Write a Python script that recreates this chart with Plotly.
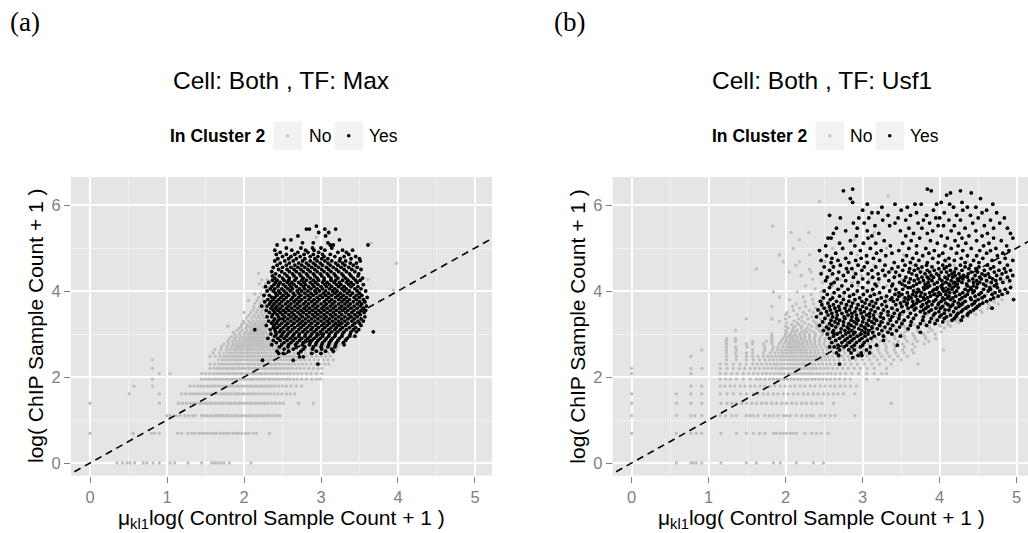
import plotly.graph_objects as go

W, H = 1028, 533

# Each series is a list of rows: (log(ChIP count + 1), [scaled log(control count + 1), ...])

# ---- Panel (a): Max ----
MAX_NO = [
    (0.00, [0.35, 0.42, 0.48, 0.52, 0.58, 0.69, 0.74, 0.82, 0.90, 1.04, 1.10, 1.27, 1.45, 1.58, 1.62, 1.66, 1.70, 1.74, 1.81, 2.09]),
    (0.69, [0.00, 0.56, 0.80, 0.84, 0.90, 1.14, 1.19, 1.27, 1.32, 1.36, 1.41, 1.45, 1.49, 1.53, 1.57, 1.61, 1.64, 1.69, 1.73, 1.77, 1.81, 1.86, 1.90, 1.93, 1.97, 2.02, 2.06, 2.12, 2.16, 2.33]),
    (1.10, [1.00, 1.04, 1.12, 1.17, 1.23, 1.28, 1.33, 1.37, 1.45, 1.49, 1.52, 1.56, 1.59, 1.63, 1.66, 1.70, 1.73, 1.77, 1.80, 1.84, 1.88, 1.91, 1.95, 1.98, 2.02, 2.06, 2.09, 2.13, 2.17, 2.21, 2.25, 2.30, 2.34, 2.39, 2.43, 2.47]),
    (1.39, [0.00, 0.90, 1.15, 1.20, 1.25, 1.30, 1.34, 1.38, 1.42, 1.45, 1.49, 1.52, 1.56, 1.59, 1.63, 1.66, 1.70, 1.73, 1.77, 1.80, 1.83, 1.87, 1.90, 1.94, 1.97, 2.01, 2.04, 2.08, 2.11, 2.15, 2.19, 2.23, 2.27, 2.31, 2.36, 2.41, 2.46, 2.51, 2.71, 2.90]),
    (1.61, [0.51, 0.90, 1.19, 1.24, 1.29, 1.33, 1.37, 1.41, 1.45, 1.49, 1.52, 1.56, 1.59, 1.63, 1.66, 1.70, 1.73, 1.76, 1.80, 1.83, 1.87, 1.90, 1.93, 1.97, 2.00, 2.04, 2.07, 2.11, 2.14, 2.18, 2.22, 2.26, 2.30, 2.34, 2.39, 2.44, 2.49, 2.55, 2.60, 2.66]),
    (1.79, [0.57, 0.81, 1.30, 1.35, 1.40, 1.44, 1.48, 1.52, 1.55, 1.59, 1.62, 1.66, 1.69, 1.73, 1.76, 1.80, 1.83, 1.86, 1.90, 1.93, 1.97, 2.00, 2.04, 2.07, 2.10, 2.14, 2.17, 2.21, 2.24, 2.28, 2.32, 2.36, 2.40, 2.45, 2.50, 2.55, 2.61, 2.68, 2.75]),
    (1.95, [0.81, 1.45, 1.50, 1.54, 1.58, 1.62, 1.65, 1.69, 1.72, 1.76, 1.79, 1.83, 1.86, 1.89, 1.93, 1.96, 2.00, 2.03, 2.07, 2.10, 2.13, 2.17, 2.20, 2.24, 2.27, 2.31, 2.34, 2.38, 2.42, 2.46, 2.50, 2.55, 2.59, 2.64, 2.69, 2.75, 2.81, 2.88, 2.94, 2.99]),
    (2.08, [0.90, 1.04, 1.45, 1.50, 1.55, 1.60, 1.64, 1.68, 1.72, 1.75, 1.79, 1.82, 1.86, 1.89, 1.92, 1.96, 1.99, 2.03, 2.06, 2.10, 2.13, 2.16, 2.20, 2.23, 2.27, 2.30, 2.34, 2.37, 2.41, 2.44, 2.48, 2.52, 2.56, 2.60, 2.65, 2.70, 2.75, 2.81, 2.87, 2.94, 3.01]),
    (2.20, [0.81, 1.56, 1.61, 1.65, 1.69, 1.73, 1.77, 1.80, 1.84, 1.87, 1.91, 1.94, 1.98, 2.01, 2.05, 2.08, 2.12, 2.15, 2.19, 2.22, 2.26, 2.29, 2.33, 2.36, 2.40, 2.43, 2.47, 2.51, 2.55, 2.59, 2.63, 2.68, 2.73, 2.78, 2.84, 2.90, 2.96, 3.01]),
    (2.30, [1.56, 1.62, 1.67, 1.71, 1.75, 1.79, 1.83, 1.86, 1.90, 1.93, 1.97, 2.00, 2.04, 2.07, 2.11, 2.14, 2.18, 2.21, 2.25, 2.28, 2.32, 2.35, 2.39, 2.42, 2.46, 2.50, 2.54, 2.58, 2.62, 2.66, 2.71, 2.76, 2.81, 2.87, 2.93, 2.99, 3.05, 3.10]),
    (2.40, [0.81, 1.67, 1.72, 1.76, 1.80, 1.84, 1.88, 1.91, 1.95, 1.98, 2.02, 2.05, 2.09, 2.12, 2.16, 2.19, 2.23, 2.26, 2.30, 2.33, 2.37, 2.40, 2.44, 2.48, 2.52, 2.56, 2.60, 2.64, 2.69, 2.74, 2.79, 2.85, 2.91, 2.97, 3.03, 3.09, 3.16]),
    (2.48, [1.56, 1.63, 1.69, 1.74, 1.78, 1.82, 1.86, 1.90, 1.93, 1.97, 2.00, 2.04, 2.07, 2.11, 2.14, 2.18, 2.21, 2.25, 2.28, 2.32, 2.35, 2.39, 2.43, 2.47, 2.51, 2.55, 2.59, 2.63, 2.67, 2.72, 2.77, 2.82, 2.88, 2.94, 3.00, 3.06, 3.12]),
    (2.56, [1.60, 1.68, 1.74, 1.79, 1.83, 1.87, 1.91, 1.95, 1.98, 2.02, 2.05, 2.09, 2.12, 2.16, 2.19, 2.23, 2.27, 2.31, 2.35, 2.39, 2.43, 2.47, 2.51, 2.55, 2.60, 2.65, 2.70, 2.75, 2.80, 2.86, 2.92, 2.98, 3.04, 3.10, 3.16]),
    (2.64, [1.62, 1.70, 1.77, 1.82, 1.87, 1.91, 1.95, 1.99, 2.03, 2.06, 2.10, 2.14, 2.18, 2.22, 2.26, 2.30, 2.34, 2.38, 2.42, 2.47, 2.52, 2.57, 2.62, 2.68, 2.74, 2.80, 2.86, 2.92, 2.99, 3.06, 3.13, 3.20]),
    (2.71, [1.71, 1.78, 1.84, 1.89, 1.93, 1.97, 2.01, 2.05, 2.09, 2.13, 2.17, 2.21, 2.25, 2.29, 2.33, 2.38, 2.43, 2.48, 2.54, 2.60, 2.66, 2.73, 2.80, 2.88, 2.96, 3.04, 3.12, 3.22]),
    (2.77, [1.74, 1.80, 1.86, 1.91, 1.95, 1.99, 2.03, 2.07, 2.11, 2.15, 2.19, 2.23, 2.27, 2.32, 2.37, 2.43, 2.49, 2.56, 2.63, 2.71, 2.79, 2.87, 2.96, 3.05, 3.15, 3.25]),
    (2.83, [1.79, 1.85, 1.90, 1.95, 2.00, 2.04, 2.08, 2.12, 2.16, 2.20, 2.24, 2.29, 2.34, 2.40, 2.47, 2.55, 2.64, 2.74, 2.85, 2.97, 3.10, 3.22, 3.30]),
    (2.89, [1.81, 1.88, 1.94, 1.99, 2.03, 2.07, 2.11, 2.15, 2.19, 2.23, 2.27, 2.32, 2.38, 2.45, 2.53, 2.62, 2.73, 2.86, 3.00, 3.15, 3.30]),
    (2.94, [1.84, 1.90, 1.96, 2.01, 2.06, 2.10, 2.14, 2.18, 2.22, 2.26, 2.31, 2.37, 2.44, 2.52, 3.40]),
    (3.00, [1.88, 1.94, 2.00, 2.05, 2.09, 2.13, 2.17, 2.21, 2.25, 2.30]),
    (3.04, [1.86, 1.95, 2.02, 2.08, 2.12, 2.16, 2.20, 2.24, 2.28]),
    (3.09, [1.91, 1.98, 2.04, 2.10, 2.15, 2.19, 2.23, 2.27]),
    (3.14, [1.94, 2.02, 2.08, 2.13, 2.18, 2.22, 2.26, 2.30]),
    (3.18, [1.79, 1.97, 2.05, 2.11, 2.16, 2.21, 2.25, 2.29]),
    (3.22, [1.97, 2.04, 2.10, 2.15, 2.20, 2.24, 2.28]),
    (3.26, [2.00, 2.08, 2.14, 2.19, 2.24, 2.28]),
    (3.30, [1.99, 2.06, 2.12, 2.17, 2.22, 2.27]),
    (3.37, [2.03, 2.10, 2.16, 2.21, 2.26]),
    (3.43, [2.06, 2.13, 2.19, 2.24, 2.29]),
    (3.50, [2.00, 2.09, 2.16, 2.22, 2.27]),
    (3.56, [2.12, 2.18, 2.24, 2.29]),
    (3.63, [2.13, 2.20, 2.26]),
    (3.71, [2.14, 2.21, 2.27, 3.58]),
    (3.78, [2.06, 2.17, 2.24, 2.30]),
    (3.85, [2.19, 2.25]),
    (3.93, [2.14, 2.22, 2.28]),
    (4.00, [2.30, 2.36]),
    (4.02, [3.94]),
    (4.09, [2.25, 2.32]),
    (4.17, [2.20, 2.28]),
    (4.26, [2.23, 2.30]),
    (4.27, [3.61]),
    (4.41, [2.19]),
    (4.50, [3.44]),
    (4.53, [2.38]),
    (4.64, [3.98]),
    (4.73, [2.41]),
    (5.11, [3.65]),
    (5.25, [2.94]),
]

MAX_YES = [
    (5.51, [2.94]),
    (5.44, [2.81, 2.85, 3.05, 3.19]),
    (5.36, [2.97, 3.10]),
    (5.28, [2.70, 3.06]),
    (5.19, [2.52, 2.61, 3.24]),
    (5.12, [2.76, 2.90, 3.09]),
    (5.07, [2.43, 3.12, 3.16, 3.61]),
    (5.00, [2.55, 2.74, 2.89, 3.00, 3.14]),
    (4.95, [2.40, 2.62, 2.80, 2.91, 3.05, 3.28, 3.41]),
    (4.90, [2.47, 2.70, 2.83, 2.97, 3.22, 3.33]),
    (4.85, [2.42, 2.55, 2.66, 2.78, 2.90, 3.02, 3.12, 3.36]),
    (4.80, [2.50, 2.61, 2.73, 2.86, 2.96, 3.04, 3.18, 3.30, 3.45]),
    (4.75, [2.44, 2.58, 2.68, 2.79, 2.92, 3.01, 3.09, 3.25, 3.39, 3.50]),
    (4.70, [2.40, 2.53, 2.64, 2.76, 2.86, 2.95, 3.05, 3.14, 3.24, 3.32, 3.51]),
    (4.65, [2.47, 2.59, 2.71, 2.81, 2.90, 2.99, 3.09, 3.19, 3.28, 3.38, 3.46]),
    (4.60, [2.43, 2.55, 2.66, 2.75, 2.84, 2.93, 3.02, 3.12, 3.22, 3.31, 3.42]),
    (4.55, [2.38, 2.50, 2.61, 2.70, 2.79, 2.88, 2.97, 3.07, 3.16, 3.26, 3.36, 3.47]),
    (4.50, [2.45, 2.56, 2.65, 2.74, 2.83, 2.92, 3.01, 3.10, 3.20, 3.30, 3.40, 3.52]),
    (4.45, [2.36, 2.49, 2.59, 2.68, 2.77, 2.86, 2.95, 3.04, 3.13, 3.23, 3.33, 3.44]),
    (4.40, [2.41, 2.53, 2.63, 2.72, 2.81, 2.90, 2.99, 3.08, 3.17, 3.27, 3.37, 3.49]),
    (4.35, [2.37, 2.46, 2.56, 2.65, 2.74, 2.83, 2.92, 3.01, 3.10, 3.19, 3.29, 3.39, 3.48]),
    (4.30, [2.40, 2.50, 2.59, 2.68, 2.77, 2.86, 2.95, 3.04, 3.13, 3.22, 3.32, 3.42, 3.54]),
    (4.25, [2.37, 2.43, 2.52, 2.58, 2.66, 2.75, 2.81, 2.90, 2.97, 3.04, 3.13, 3.19, 3.28, 3.35, 3.45, 3.51]),
    (4.20, [2.32, 2.41, 2.47, 2.56, 2.62, 2.71, 2.78, 2.86, 2.93, 3.02, 3.08, 3.17, 3.24, 3.33, 3.39, 3.47]),
    (4.15, [2.39, 2.45, 2.51, 2.59, 2.65, 2.74, 2.80, 2.89, 2.96, 3.05, 3.11, 3.20, 3.26, 3.36, 3.42, 3.55]),
    (4.10, [2.28, 2.36, 2.44, 2.54, 2.61, 2.68, 2.77, 2.84, 2.91, 3.00, 3.07, 3.14, 3.23, 3.30, 3.39, 3.48]),
    (4.05, [2.34, 2.40, 2.49, 2.57, 2.63, 2.72, 2.79, 2.87, 2.95, 3.02, 3.11, 3.18, 3.27, 3.33, 3.44, 3.52]),
    (4.00, [2.30, 2.38, 2.45, 2.52, 2.60, 2.69, 2.75, 2.83, 2.92, 2.98, 3.06, 3.15, 3.21, 3.30, 3.37, 3.47, 3.58]),
    (3.95, [2.41, 2.47, 2.55, 2.64, 2.71, 2.79, 2.87, 2.94, 3.03, 3.10, 3.18, 3.25, 3.34, 3.41, 3.50]),
    (3.90, [2.26, 2.33, 2.43, 2.51, 2.58, 2.66, 2.74, 2.83, 2.90, 2.99, 3.06, 3.14, 3.22, 3.29, 3.38, 3.46, 3.53]),
    (3.85, [2.36, 2.40, 2.48, 2.55, 2.63, 2.71, 2.79, 2.86, 2.95, 3.02, 3.10, 3.19, 3.26, 3.33, 3.43, 3.50, 3.60]),
    (3.80, [2.31, 2.38, 2.45, 2.52, 2.61, 2.68, 2.75, 2.84, 2.91, 2.98, 3.07, 3.14, 3.23, 3.30, 3.37, 3.46, 3.55]),
    (3.75, [2.27, 2.35, 2.42, 2.49, 2.57, 2.65, 2.72, 2.80, 2.88, 2.95, 3.04, 3.11, 3.18, 3.27, 3.34, 3.42, 3.50, 3.57]),
    (3.70, [2.33, 2.39, 2.46, 2.54, 2.61, 2.69, 2.77, 2.84, 2.92, 3.00, 3.07, 3.15, 3.23, 3.31, 3.38, 3.47, 3.53]),
    (3.65, [2.23, 2.30, 2.37, 2.43, 2.50, 2.58, 2.66, 2.73, 2.81, 2.89, 2.96, 3.04, 3.12, 3.19, 3.27, 3.35, 3.43, 3.51, 3.59]),
    (3.60, [2.35, 2.41, 2.47, 2.55, 2.62, 2.70, 2.78, 2.85, 2.93, 3.01, 3.08, 3.16, 3.24, 3.31, 3.39, 3.47, 3.55]),
    (3.55, [2.29, 2.38, 2.44, 2.51, 2.58, 2.66, 2.74, 2.81, 2.89, 2.97, 3.04, 3.12, 3.20, 3.28, 3.35, 3.43, 3.52, 3.58]),
    (3.50, [2.33, 2.40, 2.47, 2.54, 2.62, 2.70, 2.77, 2.85, 2.93, 3.00, 3.08, 3.16, 3.24, 3.32, 3.40, 3.48, 3.56]),
    (3.45, [2.37, 2.43, 2.50, 2.58, 2.65, 2.73, 2.81, 2.89, 2.96, 3.04, 3.12, 3.19, 3.27, 3.36, 3.44, 3.51]),
    (3.40, [2.30, 2.36, 2.45, 2.53, 2.61, 2.68, 2.76, 2.84, 2.92, 3.00, 3.07, 3.15, 3.23, 3.31, 3.39, 3.47, 3.57]),
    (3.35, [2.40, 2.46, 2.50, 2.57, 2.65, 2.72, 2.80, 2.88, 2.96, 3.04, 3.11, 3.19, 3.27, 3.35, 3.43, 3.52]),
    (3.30, [2.32, 2.38, 2.44, 2.53, 2.61, 2.69, 2.76, 2.84, 2.92, 3.00, 3.08, 3.15, 3.23, 3.31, 3.40, 3.48, 3.55]),
    (3.25, [2.36, 2.42, 2.49, 2.57, 2.65, 2.73, 2.80, 2.88, 2.96, 3.04, 3.11, 3.19, 3.27, 3.35, 3.44, 3.50]),
    (3.20, [2.29, 2.39, 2.46, 2.54, 2.62, 2.70, 2.77, 2.85, 2.93, 3.01, 3.08, 3.16, 3.24, 3.32, 3.41, 3.52]),
    (3.15, [2.38, 2.43, 2.51, 2.58, 2.66, 2.74, 2.82, 2.89, 2.97, 3.05, 3.13, 3.20, 3.28, 3.37, 3.45]),
    (3.10, [2.14, 2.34, 2.40, 2.48, 2.56, 2.63, 2.71, 2.79, 2.87, 2.94, 3.02, 3.10, 3.18, 3.25, 3.33, 3.42, 3.49]),
    (3.05, [2.41, 2.46, 2.52, 2.60, 2.68, 2.76, 2.83, 2.91, 2.99, 3.07, 3.14, 3.22, 3.30, 3.39, 3.46, 3.68]),
    (3.00, [2.35, 2.42, 2.50, 2.57, 2.65, 2.72, 2.80, 2.88, 2.95, 3.03, 3.11, 3.19, 3.28, 3.38]),
    (2.95, [2.40, 2.48, 2.55, 2.63, 2.71, 2.79, 2.86, 2.94, 3.02, 3.10, 3.18, 3.27, 3.37, 3.44]),
    (2.90, [2.31, 2.44, 2.52, 2.60, 2.67, 2.75, 2.83, 2.91, 2.99, 3.07, 3.15, 3.24, 3.34]),
    (2.85, [2.38, 2.47, 2.56, 2.64, 2.72, 2.80, 2.88, 2.96, 3.05, 3.13, 3.22, 3.32]),
    (2.80, [2.42, 2.52, 2.61, 2.69, 2.77, 2.86, 2.94, 3.02, 3.11, 3.20, 3.29]),
    (2.75, [2.36, 2.49, 2.58, 2.67, 2.76, 2.85, 2.93, 3.01, 3.10, 3.19, 3.30]),
    (2.70, [2.46, 2.57, 2.68, 2.79, 2.90, 3.00, 3.09, 3.18]),
    (2.65, [2.52, 2.64, 2.77, 2.89, 3.01, 3.14]),
    (2.60, [2.43, 2.58, 2.74, 2.94, 3.06, 3.16]),
    (2.55, [2.45, 2.51, 2.71, 2.88, 3.00]),
    (2.47, [2.72, 2.77]),
    (2.39, [2.24, 2.64]),
    (2.30, [2.96]),
]

# ---- Panel (b): Usf1 ----
USF1_NO = [
    (0.00, [0.58, 0.77, 0.80, 0.84, 0.91, 1.16, 1.49, 1.62, 1.84, 1.93, 2.14, 2.36, 2.49]),
    (0.69, [0.00, 0.58, 0.77, 0.84, 0.91, 1.16, 1.36, 1.49, 1.58, 1.66, 1.73, 1.84, 1.88, 1.93, 1.97, 2.01, 2.06, 2.10, 2.14, 2.25, 2.34, 2.40, 2.46, 2.55]),
    (1.10, [0.00, 0.58, 0.77, 0.82, 0.91, 1.15, 1.22, 1.30, 1.36, 1.49, 1.54, 1.58, 1.64, 1.73, 1.79, 1.84, 1.90, 1.97, 2.01, 2.06, 2.14, 2.21, 2.27, 2.32, 2.36, 2.45, 2.51, 2.58, 2.64, 2.90]),
    (1.39, [0.00, 0.58, 0.77, 0.91, 1.16, 1.24, 1.30, 1.36, 1.43, 1.49, 1.56, 1.62, 1.69, 1.75, 1.82, 1.88, 1.95, 2.01, 2.08, 2.14, 2.21, 2.27, 2.34, 2.40, 2.47, 2.62, 3.37]),
    (1.61, [0.00, 0.58, 0.77, 0.91, 1.15, 1.24, 1.32, 1.41, 1.49, 1.58, 1.64, 1.71, 1.77, 1.84, 1.90, 1.97, 2.03, 2.10, 2.16, 2.23, 2.29, 2.36, 2.42, 2.49, 2.55, 2.62, 2.68, 2.75, 2.90]),
    (1.79, [0.77, 0.91, 1.15, 1.21, 1.28, 1.34, 1.41, 1.47, 1.54, 1.60, 1.67, 1.73, 1.80, 1.86, 1.93, 1.99, 2.06, 2.12, 2.19, 2.25, 2.32, 2.38, 2.45, 2.51, 2.58, 2.64, 2.71, 2.77, 2.84, 2.92]),
    (1.95, [1.15, 1.22, 1.28, 1.36, 1.45, 1.54, 1.62, 1.67, 1.73, 1.79, 1.84, 1.89, 1.93, 1.98, 2.02, 2.07, 2.11, 2.16, 2.20, 2.25, 2.29, 2.34, 2.38, 2.43, 2.48, 2.53, 2.58, 2.64, 2.70, 2.77, 2.84, 3.05, 3.20]),
    (2.08, [0.00, 0.77, 1.15, 1.22, 1.30, 1.37, 1.45, 1.52, 1.58, 1.64, 1.70, 1.75, 1.80, 1.85, 1.90, 1.94, 1.98, 2.03, 2.07, 2.11, 2.15, 2.19, 2.23, 2.27, 2.31, 2.35, 2.40, 2.44, 2.49, 2.54, 2.59, 2.65, 2.71, 2.78, 2.86, 2.95, 3.05, 3.15, 3.25, 3.31]),
    (2.20, [0.00, 0.77, 0.91, 1.15, 1.24, 1.32, 1.40, 1.47, 1.54, 1.60, 1.66, 1.72, 1.77, 1.82, 1.87, 1.92, 1.96, 2.00, 2.04, 2.08, 2.12, 2.16, 2.20, 2.24, 2.28, 2.32, 2.36, 2.40, 2.45, 2.50, 2.55, 2.61, 2.67, 2.74, 2.81, 2.89, 2.97, 3.06, 3.15, 3.31]),
    (2.30, [1.15, 1.23, 1.32, 1.41, 1.49, 1.57, 1.63, 1.69, 1.75, 1.80, 1.85, 1.89, 1.94, 1.98, 2.02, 2.06, 2.10, 2.14, 2.18, 2.22, 2.26, 2.30, 2.34, 2.38, 2.43, 2.48, 2.53, 2.58, 2.64, 2.70, 2.77, 2.85, 2.93, 3.02, 3.12, 3.22, 3.37, 3.72]),
    (2.40, [1.23, 1.36, 1.49, 1.58, 1.66, 1.73, 1.79, 1.84, 1.89, 1.94, 1.98, 2.02, 2.06, 2.10, 2.14, 2.18, 2.22, 2.26, 2.30, 2.34, 2.38, 2.42, 2.47, 2.52, 2.57, 2.63, 2.69, 2.76, 2.83, 2.91, 3.00, 3.09, 3.19, 3.29, 3.40, 3.50]),
    (2.48, [0.77, 1.23, 1.36, 1.49, 1.57, 1.64, 1.71, 1.77, 1.82, 1.87, 1.92, 1.96, 2.00, 2.04, 2.08, 2.12, 2.16, 2.20, 2.24, 2.28, 2.32, 2.36, 2.40, 2.45, 2.50, 2.55, 2.61, 2.67, 2.74, 2.81, 2.89, 2.97, 3.06, 3.15, 3.25, 3.35, 3.46, 3.58]),
    (2.56, [1.23, 1.35, 1.49, 1.57, 1.71, 1.80, 1.86, 1.91, 1.96, 2.00, 2.04, 2.08, 2.12, 2.16, 2.20, 2.24, 2.28, 2.33, 2.38, 2.43, 2.49, 2.55, 2.62, 2.69, 2.77, 2.85, 2.94, 3.03, 3.12, 3.22, 3.32, 3.43, 3.54, 3.66]),
    (2.63, [0.91, 1.23, 1.36, 1.57, 1.73, 1.83, 1.89, 1.94, 1.99, 2.03, 2.07, 2.11, 2.15, 2.19, 2.23, 2.27, 2.32, 2.37, 2.42, 2.48, 2.54, 2.60, 2.67, 2.75, 2.83, 2.92, 3.01, 3.10, 3.20, 3.30, 3.41, 3.52, 3.64, 4.05]),
    (2.70, [1.23, 1.35, 1.50, 1.73, 1.84, 1.90, 1.96, 2.01, 2.05, 2.09, 2.13, 2.17, 2.21, 2.25, 2.30, 2.35, 2.40, 2.46, 2.52, 2.59, 2.66, 2.74, 2.82, 2.91, 3.00, 3.10, 3.20, 3.31, 3.42, 3.54, 3.68]),
    (2.77, [1.23, 1.49, 1.57, 1.71, 1.82, 1.92, 1.98, 2.03, 2.07, 2.11, 2.15, 2.19, 2.23, 2.28, 2.33, 2.38, 2.44, 2.50, 2.57, 2.64, 2.72, 2.80, 2.89, 2.98, 3.08, 3.18, 3.29, 3.40, 3.52, 3.65, 3.80]),
    (2.83, [1.23, 1.35, 1.57, 1.75, 1.82, 1.94, 2.00, 2.05, 2.09, 2.13, 2.17, 2.22, 2.27, 2.32, 2.38, 2.44, 2.51, 2.58, 2.66, 2.74, 2.83, 2.92, 3.02, 3.12, 3.23, 3.34, 3.46, 3.58, 3.71, 3.86]),
    (2.89, [1.23, 1.35, 1.82, 1.96, 2.01, 2.06, 2.10, 2.15, 2.20, 2.25, 2.31, 2.37, 2.44, 2.51, 2.59, 2.67, 2.76, 2.86, 2.96, 3.07, 3.18, 3.30, 3.42, 3.55, 3.68, 3.82, 3.95]),
    (2.95, [1.82, 1.99, 2.04, 2.09, 2.14, 2.19, 2.25, 2.31, 2.38, 2.46, 2.54, 2.63, 2.72, 2.82, 2.93, 3.04, 3.16, 3.28, 3.41, 3.54, 3.67, 3.81]),
    (3.00, [1.82, 2.00, 2.06, 2.12, 2.18, 2.24, 2.31, 2.39, 2.48, 2.57, 2.67, 2.78, 2.89, 3.01, 3.13, 3.25, 3.38, 3.51, 3.65, 3.79, 3.94]),
    (3.05, [2.01, 2.08, 2.13, 2.21, 2.27, 2.36, 2.45, 2.56, 2.66, 2.79, 2.90, 3.03, 3.15, 3.31, 3.44, 3.55, 3.72, 3.85, 4.02]),
    (3.09, [1.35, 2.00, 2.09, 2.15, 2.25, 2.32, 2.44, 2.53, 2.66, 2.76, 2.88, 3.03, 3.14, 3.30, 3.42, 3.59, 3.71, 3.90]),
    (3.14, [2.03, 2.10, 2.20, 2.28, 2.40, 2.49, 2.63, 2.73, 2.88, 2.99, 3.15, 3.27, 3.43, 3.56, 3.73, 3.87, 4.06]),
    (3.18, [2.00, 2.12, 2.21, 2.34, 2.43, 2.57, 2.68, 2.83, 2.95, 3.11, 3.24, 3.41, 3.54, 3.71, 3.85, 4.01, 4.14]),
    (3.22, [2.08, 2.17, 2.30, 2.40, 2.54, 2.65, 2.80, 2.92, 3.08, 3.20, 3.37, 3.50, 3.67, 3.81, 3.99, 4.11]),
    (3.26, [2.01, 2.15, 2.25, 2.39, 2.50, 2.65, 2.77, 2.93, 3.05, 3.21, 3.34, 3.51, 3.64, 3.81, 3.94, 4.11, 4.25]),
    (3.30, [1.92, 2.11, 2.21, 2.36, 2.47, 2.63, 2.75, 2.91, 3.03, 3.20, 3.33, 3.50, 3.63, 3.80, 3.93, 4.10, 4.21]),
    (3.35, [1.49, 1.82, 2.00, 2.17, 2.29, 2.45, 2.57, 2.74, 2.87, 3.04, 3.17, 3.34, 3.47, 3.64, 3.77, 3.94, 4.07, 4.25]),
    (3.40, [2.05, 2.21, 2.34, 2.51, 2.64, 2.81, 2.95, 3.13, 3.27, 3.45, 3.59, 3.77, 3.91, 4.09, 4.23, 4.37]),
    (3.45, [2.00, 2.15, 2.27, 2.44, 2.57, 2.74, 2.88, 3.06, 3.20, 3.38, 3.52, 3.70, 3.84, 4.02, 4.16, 4.34, 4.47]),
    (3.50, [2.02, 2.23, 2.36, 2.53, 2.66, 2.84, 2.98, 3.16, 3.30, 3.48, 3.62, 3.80, 3.94, 4.12, 4.26, 4.43, 4.55]),
    (3.55, [2.10, 2.31, 2.45, 2.63, 2.77, 2.95, 3.09, 3.27, 3.41, 3.59, 3.73, 3.91, 4.05, 4.23, 4.37, 4.53]),
    (3.60, [2.18, 2.39, 2.54, 2.72, 2.86, 3.04, 3.18, 3.36, 3.50, 3.68, 3.82, 4.00, 4.14, 4.32, 4.46, 4.63]),
    (3.64, [1.82, 2.09, 2.26, 2.47, 2.62, 2.81, 2.96, 3.15, 3.30, 3.49, 3.64, 3.83, 3.98, 4.17, 4.32, 4.51, 4.65]),
    (3.70, [2.14, 2.36, 2.54, 2.75, 2.92, 3.13, 3.30, 3.51, 3.68, 3.89, 4.06, 4.27, 4.44, 4.63, 4.76]),
    (3.75, [2.25, 2.48, 2.67, 2.90, 3.09, 3.32, 3.51, 3.74, 3.93, 4.16, 4.35, 4.56, 4.71]),
    (3.80, [2.05, 2.35, 2.57, 2.83, 3.05, 3.31, 3.53, 3.79, 4.01, 4.27, 4.47, 4.67, 4.81]),
    (3.86, [1.92, 2.23, 2.47, 2.75, 2.99, 3.27, 3.51, 3.79, 4.03, 4.31, 4.53, 4.75]),
    (3.92, [2.33, 2.60, 2.91, 3.18, 3.49, 3.76, 4.07, 4.34, 4.61, 4.83]),
    (3.98, [1.84, 2.15, 2.46, 2.77, 3.12, 3.43, 3.78, 4.09, 4.44, 4.69, 4.89]),
    (4.05, [2.38, 2.71, 3.02, 3.37, 3.68, 4.03, 4.34, 4.65, 4.86]),
    (4.12, [2.26, 2.61, 2.94, 3.31, 3.64, 4.01, 4.34, 4.67, 4.93]),
    (4.20, [2.48, 2.86, 3.21, 3.60, 3.95, 4.34, 4.62, 4.90]),
    (4.27, [2.35, 2.71, 3.09, 3.51, 3.89, 4.31, 4.59, 4.85]),
    (4.36, [2.20, 2.59, 2.99, 3.43, 3.83, 4.27, 4.56, 4.79]),
    (4.44, [2.05, 2.33, 2.47, 2.89, 3.36, 3.79, 4.26, 4.51, 4.71]),
    (4.51, [1.62, 2.31, 2.81, 3.27, 3.77, 4.23, 4.49]),
    (4.60, [2.13, 2.61, 3.15, 3.65, 4.19, 4.41]),
    (4.68, [1.97, 2.18, 2.51, 3.04, 3.61, 4.09, 4.36]),
    (4.84, [1.92, 2.31, 2.93, 3.53, 4.01]),
    (4.99, [2.10, 2.61, 3.09, 3.31]),
    (5.19, [2.18, 2.89]),
    (5.36, [2.07, 2.30, 3.15]),
    (5.51, [1.83]),
    (6.08, [2.44]),
    (6.21, [3.33]),
]

USF1_YES = [
    (6.37, [2.87, 3.84]),
    (6.33, [2.75, 3.89, 4.27]),
    (6.28, [4.14, 4.41]),
    (6.23, [4.09]),
    (6.15, [2.84, 4.53]),
    (6.06, [2.87, 4.02, 4.29]),
    (6.02, [3.06, 3.42, 3.68, 3.76, 3.96, 4.13, 4.69]),
    (5.95, [3.25, 3.58, 4.18, 4.36, 4.47]),
    (5.88, [3.00, 3.50, 3.92, 4.30, 4.61]),
    (5.82, [3.12, 3.20, 3.70, 4.06, 4.55, 4.74]),
    (5.76, [2.57, 3.33, 3.62, 3.83, 4.22, 4.40]),
    (5.70, [2.71, 2.95, 3.08, 3.46, 3.95, 4.00, 4.50, 4.84]),
    (5.65, [3.26, 3.56, 3.79, 4.12, 4.27, 4.66]),
    (5.58, [2.88, 3.02, 3.42, 3.72, 3.87, 4.43, 4.78]),
    (5.52, [3.16, 3.35, 3.98, 4.05, 4.19, 4.58]),
    (5.46, [2.66, 2.93, 3.60, 3.77, 4.33, 4.70, 4.88]),
    (5.40, [2.78, 3.06, 3.49, 3.91, 4.15, 4.47]),
    (5.34, [2.62, 3.21, 3.66, 3.84, 4.25, 4.62, 4.92]),
    (5.28, [2.92, 3.12, 3.56, 4.02, 4.38, 4.55]),
    (5.23, [2.55, 2.59, 3.07, 3.74, 4.10, 4.29, 4.70, 4.95]),
    (5.17, [2.84, 3.28, 3.63, 3.88, 4.20, 4.48, 4.80]),
    (5.11, [2.70, 3.01, 3.17, 3.52, 3.97, 4.34, 4.64]),
    (5.05, [2.52, 2.90, 3.36, 3.70, 4.07, 4.24, 4.57, 4.87]),
    (4.99, [2.74, 3.10, 3.60, 3.82, 4.15, 4.41, 4.73]),
    (4.94, [2.44, 2.97, 3.24, 3.47, 3.93, 4.30, 4.52, 4.66, 4.90]),
    (4.88, [2.65, 2.85, 3.18, 3.38, 3.70, 3.86, 4.04, 4.22, 4.61, 4.82]),
    (4.82, [2.53, 3.05, 3.30, 3.57, 3.78, 3.99, 4.36, 4.48, 4.75]),
    (4.76, [2.60, 2.78, 2.98, 3.14, 3.65, 3.91, 4.12, 4.28, 4.56, 4.85]),
    (4.71, [2.46, 2.68, 2.91, 3.22, 3.52, 3.73, 4.07, 4.19, 4.44, 4.68, 4.95]),
    (4.66, [2.59, 2.82, 3.06, 3.41, 3.62, 3.84, 3.98, 4.33, 4.51, 4.78]),
    (4.60, [2.71, 2.94, 3.29, 3.55, 3.69, 3.83, 4.04, 4.13, 4.27, 4.40, 4.62, 4.88]),
    (4.56, [2.50, 2.62, 3.02, 3.17, 3.46, 3.77, 3.90, 4.09, 4.33, 4.51, 4.70]),
    (4.52, [2.79, 2.86, 3.38, 3.61, 3.72, 3.99, 4.06, 4.21, 4.38, 4.47, 4.66, 4.84]),
    (4.48, [2.57, 2.99, 3.12, 3.26, 3.52, 3.67, 3.84, 3.93, 4.14, 4.29, 4.58, 4.77, 4.92]),
    (4.44, [2.69, 2.81, 3.34, 3.43, 3.60, 3.75, 3.87, 4.02, 4.09, 4.19, 4.41, 4.49, 4.71, 4.86]),
    (4.40, [2.46, 2.61, 2.91, 3.07, 3.20, 3.64, 3.81, 3.96, 4.16, 4.25, 4.37, 4.55, 4.63, 4.81]),
    (4.36, [2.75, 3.29, 3.48, 3.70, 3.89, 3.99, 4.12, 4.20, 4.31, 4.46, 4.59, 4.74, 4.95]),
    (4.32, [2.54, 2.88, 3.13, 3.41, 3.56, 3.77, 3.84, 3.92, 4.07, 4.17, 4.27, 4.36, 4.52, 4.65, 4.88]),
    (4.28, [2.67, 3.00, 3.21, 3.62, 3.72, 3.86, 4.00, 4.10, 4.23, 4.30, 4.43, 4.54, 4.69, 4.79]),
    (4.24, [2.52, 2.78, 3.34, 3.54, 3.67, 3.79, 3.90, 4.03, 4.15, 4.25, 4.38, 4.48, 4.61, 4.73, 4.91]),
    (4.20, [2.63, 2.94, 3.07, 3.48, 3.60, 3.74, 3.85, 3.97, 4.08, 4.19, 4.29, 4.44, 4.52, 4.67, 4.82]),
    (4.16, [2.59, 3.16, 3.39, 3.51, 3.70, 3.81, 3.93, 4.04, 4.12, 4.23, 4.35, 4.49, 4.57, 4.74]),
    (4.12, [2.73, 2.86, 3.18, 3.38, 3.55, 3.66, 3.83, 3.87, 4.02, 4.13, 4.20, 4.36, 4.44, 4.60, 4.71]),
    (4.08, [2.57, 3.00, 3.27, 3.59, 3.62, 3.79, 3.84, 3.97, 4.03, 4.17, 4.24, 4.40, 4.48, 4.65, 4.75, 4.92]),
    (4.04, [2.68, 2.81, 3.13, 3.43, 3.52, 3.72, 3.80, 3.93, 3.96, 4.11, 4.16, 4.33, 4.41, 4.57, 4.66, 4.85]),
    (4.00, [2.50, 2.93, 3.06, 3.35, 3.66, 3.73, 3.91, 4.05, 4.09, 4.22, 4.37, 4.45, 4.63, 4.78]),
    (3.96, [2.63, 2.76, 3.22, 3.47, 3.58, 3.70, 3.76, 3.87, 3.99, 4.13, 4.19, 4.30, 4.43, 4.54, 4.72, 4.88]),
    (3.92, [2.54, 2.88, 3.01, 3.15, 3.42, 3.51, 3.65, 3.81, 3.93, 4.01, 4.08, 4.26, 4.36, 4.51, 4.68, 4.81]),
    (3.88, [2.70, 2.83, 3.10, 3.31, 3.47, 3.60, 3.69, 3.75, 3.88, 3.97, 4.12, 4.21, 4.33, 4.46, 4.58, 4.76]),
    (3.84, [2.49, 2.61, 2.96, 3.24, 3.38, 3.55, 3.63, 3.79, 3.84, 4.04, 4.10, 4.17, 4.29, 4.40, 4.55, 4.70]),
    (3.80, [2.58, 2.75, 2.90, 3.05, 3.19, 3.36, 3.45, 3.59, 3.71, 3.80, 3.95, 4.06, 4.14, 4.26, 4.41, 4.50, 4.66, 4.96]),
    (3.76, [2.45, 2.66, 2.82, 2.99, 3.12, 3.29, 3.40, 3.54, 3.65, 3.73, 3.86, 3.92, 4.02, 4.19, 4.33, 4.46, 4.61]),
    (3.72, [2.55, 2.72, 2.87, 3.03, 3.17, 3.49, 3.58, 3.70, 3.83, 3.99, 4.08, 4.24, 4.30, 4.45, 4.56]),
    (3.68, [2.47, 2.62, 2.79, 2.94, 3.09, 3.25, 3.43, 3.57, 3.66, 3.78, 3.90, 3.98, 4.11, 4.17, 4.28, 4.42, 4.52]),
    (3.64, [2.57, 2.69, 2.85, 3.00, 3.14, 3.31, 3.51, 3.64, 3.76, 3.85, 4.04, 4.14, 4.25, 4.37, 4.49]),
    (3.60, [2.50, 2.64, 2.77, 2.92, 3.05, 3.20, 3.38, 3.59, 3.69, 3.82, 3.95, 4.01, 4.21, 4.34, 4.47, 4.68]),
    (3.56, [2.42, 2.58, 2.70, 2.83, 2.97, 3.11, 3.27, 3.45, 3.67, 3.79, 3.89, 4.07, 4.12, 4.30, 4.44]),
    (3.52, [2.53, 2.66, 2.79, 2.90, 3.02, 3.16, 3.33, 3.53, 3.75, 3.86, 3.99, 4.18, 4.28, 4.40]),
    (3.48, [2.46, 2.60, 2.73, 2.86, 2.98, 3.09, 3.24, 3.41, 3.62, 3.81, 3.94, 4.06, 4.24, 4.37]),
    (3.44, [2.55, 2.67, 2.81, 2.92, 3.05, 3.14, 3.33, 3.48, 3.69, 3.92, 4.02, 4.14, 4.22, 4.36]),
    (3.40, [2.40, 2.61, 2.76, 2.86, 3.00, 3.09, 3.23, 3.38, 3.59, 3.79, 4.00, 4.09, 4.21, 4.30]),
    (3.36, [2.51, 2.66, 2.77, 2.92, 3.01, 3.15, 3.27, 3.47, 3.66, 3.89, 4.06, 4.19]),
    (3.32, [2.59, 2.70, 2.85, 2.94, 3.08, 3.18, 3.36, 3.54, 3.78, 3.97, 4.16, 4.28]),
    (3.28, [2.48, 2.64, 2.75, 2.89, 3.00, 3.12, 3.24, 3.44, 3.63, 3.87, 4.04]),
    (3.24, [2.57, 2.68, 2.82, 2.92, 3.05, 3.15, 3.33, 3.51, 3.75, 3.94]),
    (3.20, [2.44, 2.60, 2.75, 2.85, 2.98, 3.07, 3.22, 3.39, 3.62, 3.83]),
    (3.16, [2.53, 2.65, 2.80, 2.89, 3.02, 3.12, 3.29, 3.48, 3.72]),
    (3.12, [2.56, 2.72, 2.82, 2.95, 3.04, 3.19, 3.36, 3.59]),
    (3.08, [2.49, 2.62, 2.77, 2.86, 2.99, 3.08, 3.25, 3.44]),
    (3.04, [2.61, 2.71, 2.82, 2.90, 3.03, 3.13, 3.33, 3.75]),
    (3.00, [2.54, 2.63, 2.67, 2.78, 2.88, 2.97, 3.07, 3.21, 3.38]),
    (2.95, [2.62, 2.74, 2.84, 2.93, 3.03, 3.15, 3.27, 3.49]),
    (2.90, [2.57, 2.70, 2.80, 2.89, 2.99, 3.11]),
    (2.85, [2.65, 2.77, 2.86, 2.96, 3.06, 3.27]),
    (2.80, [2.60, 2.73, 2.83, 2.92, 3.02]),
    (2.74, [2.68, 2.79, 2.89, 3.00, 3.18, 3.45]),
    (2.70, [2.57, 2.63, 2.76, 2.86, 2.97, 3.10]),
    (2.63, [2.70, 2.82, 2.89, 3.05]),
    (2.56, [2.66, 2.85, 2.98, 3.09]),
    (2.50, [2.69, 2.94, 2.99]),
    (2.45, [2.87]),
    (2.30, [2.70]),
]

TITLES = ["Cell: Both , TF: Max", "Cell: Both , TF: Usf1"]
PANEL_TAGS = ["(a)", "(b)"]
LEGEND_TITLE = "In Cluster 2"
LEGEND_LABELS = ["No", "Yes"]
X_TITLE = "μ<sub>kl1</sub>log( Control Sample Count + 1 )"
Y_TITLE = "log( ChIP Sample Count + 1 )"
X_TICKS = [0, 1, 2, 3, 4, 5]
X_MINOR = [0.5, 1.5, 2.5, 3.5, 4.5]
Y_TICKS = [0, 2, 4, 6]
Y_MINOR = [1, 3, 5]
ABLINE_SLOPE = 1.0
ABLINE_INTERCEPT = 0.0

GREY_PT = "#BDBDBD"
BLACK_PT = "#000000"
PANEL_BG = "#E5E5E5"
SANS = "Liberation Sans"
SERIF = "Liberation Serif"


def unpack(rows):
    xs, ys = [], []
    for yv, row in rows:
        xs.extend(row)
        ys.extend([yv] * len(row))
    return xs, ys


def px(x):
    return x / W


def py(y):
    return 1 - y / H


# panel geometry in pixels: (left, right) of the plotting area
PANELS = [
    dict(left=71, right=492, xrange=[-0.247, 5.221], cx=281.3, tag_x=8,
         key_x=[273.5, 334.5], text_x=[168, 307, 367]),
    dict(left=612.7, right=1028, xrange=[-0.246, 5.147], cx=821.7, tag_x=551.5,
         key_x=[815.5, 875.5], text_x=[710, 848, 908]),
]
TOP, BOTTOM = 177, 475.7
YRANGE = [-0.295, 6.651]

fig = go.Figure()
series = [(MAX_NO, MAX_YES), (USF1_NO, USF1_YES)]
for i, (no_rows, yes_rows) in enumerate(series):
    xa = "x" if i == 0 else "x2"
    ya = "y" if i == 0 else "y2"
    nx, ny = unpack(no_rows)
    yx, yy = unpack(yes_rows)
    fig.add_trace(go.Scatter(x=nx, y=ny, mode="markers", xaxis=xa, yaxis=ya,
                             marker=dict(color=GREY_PT, size=3.3, line=dict(width=0)),
                             name=LEGEND_LABELS[0], showlegend=False, hoverinfo="skip"))
    fig.add_trace(go.Scatter(x=yx, y=yy, mode="markers", xaxis=xa, yaxis=ya,
                             marker=dict(color=BLACK_PT, size=3.8, line=dict(width=0)),
                             name=LEGEND_LABELS[1], showlegend=False, hoverinfo="skip"))
    xr = PANELS[i]["xrange"]
    lx = [xr[0] - 0.5, xr[1] + 0.5]
    fig.add_trace(go.Scatter(x=lx, y=[ABLINE_SLOPE * v + ABLINE_INTERCEPT for v in lx],
                             mode="lines", xaxis=xa, yaxis=ya,
                             line=dict(color="black", width=1.6, dash="7px,5px"),
                             showlegend=False, hoverinfo="skip"))

axis_common = dict(
    showgrid=True, gridcolor="#FFFFFF", gridwidth=1.8,
    zeroline=False, showline=False,
    ticks="outside", ticklen=6, tickwidth=1.2, tickcolor="#7F7F7F",
    tickfont=dict(family=SANS, size=16.5, color="#7F7F7F"),
    fixedrange=True,
)

layout_axes = {}
for i, p in enumerate(PANELS):
    sx = "" if i == 0 else "2"
    layout_axes["xaxis" + sx] = dict(
        axis_common, domain=[px(p["left"]), px(p["right"])], range=p["xrange"],
        tickmode="array", tickvals=X_TICKS, anchor="y" + sx,
        minor=dict(tickmode="array", tickvals=X_MINOR, showgrid=True,
                   gridcolor="#F2F2F2", gridwidth=0.9, ticks=""),
    )
    layout_axes["yaxis" + sx] = dict(
        axis_common, domain=[py(BOTTOM), py(TOP)], range=YRANGE,
        tickmode="array", tickvals=Y_TICKS, anchor="x" + sx,
        minor=dict(tickmode="array", tickvals=Y_MINOR, showgrid=True,
                   gridcolor="#F2F2F2", gridwidth=0.9, ticks=""),
    )

annotations = []
shapes = []
for i, p in enumerate(PANELS):
    annotations.append(dict(text=TITLES[i], x=px(p["cx"]), y=py(80), xref="paper", yref="paper",
                            xanchor="center", yanchor="middle", showarrow=False,
                            font=dict(family=SANS, size=24.5, color="black")))
    annotations.append(dict(text=PANEL_TAGS[i], x=px(p["tag_x"]), y=py(22), xref="paper", yref="paper",
                            xanchor="left", yanchor="middle", showarrow=False,
                            font=dict(family=SERIF, size=27, color="black")))
    annotations.append(dict(text=X_TITLE, x=px(p["cx"]), y=py(519), xref="paper", yref="paper",
                            xanchor="center", yanchor="middle", showarrow=False,
                            font=dict(family=SANS, size=21, color="black")))
    annotations.append(dict(text=Y_TITLE, x=px(p["left"] - 36), y=py(326), xref="paper", yref="paper",
                            xanchor="center", yanchor="middle", showarrow=False, textangle=-90,
                            font=dict(family=SANS, size=21, color="black")))
    # legend: title, key boxes with dots, labels
    tx = p["text_x"]
    annotations.append(dict(text="<b>" + LEGEND_TITLE + "</b>", x=px(tx[0]), y=py(136), xref="paper", yref="paper",
                            xanchor="left", yanchor="middle", showarrow=False,
                            font=dict(family=SANS, size=17.5, color="black")))
    for j, lab in enumerate(LEGEND_LABELS):
        annotations.append(dict(text=lab, x=px(tx[j + 1]), y=py(136), xref="paper", yref="paper",
                                xanchor="left", yanchor="middle", showarrow=False,
                                font=dict(family=SANS, size=17.5, color="black")))
        kx = p["key_x"][j]
        shapes.append(dict(type="rect", xref="paper", yref="paper",
                           x0=px(kx), x1=px(kx + 28.5), y0=py(150), y1=py(121.5),
                           fillcolor="#F2F2F2", line=dict(width=0), layer="below"))
        r = 1.6 if j == 0 else 1.8
        ccx, ccy = kx + 14.25, 135.8
        shapes.append(dict(type="circle", xref="paper", yref="paper",
                           x0=px(ccx - r), x1=px(ccx + r), y0=py(ccy + r), y1=py(ccy - r),
                           fillcolor=GREY_PT if j == 0 else BLACK_PT, line=dict(width=0)))

fig.update_layout(
    width=W, height=H, margin=dict(l=0, r=0, t=0, b=0),
    paper_bgcolor="white", plot_bgcolor=PANEL_BG,
    showlegend=False, annotations=annotations, shapes=shapes,
    **layout_axes,
)

fig.write_html("out.html", config=dict(displayModeBar=False))
